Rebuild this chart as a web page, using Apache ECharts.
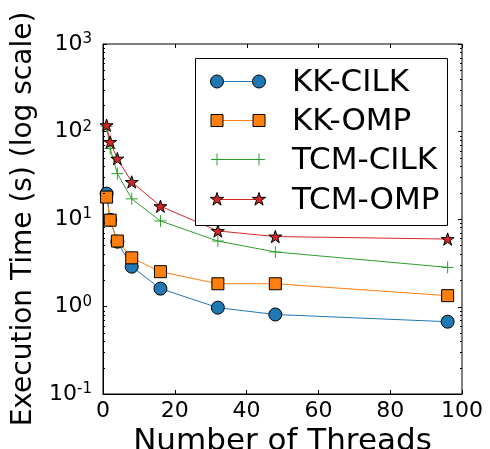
<!DOCTYPE html>
<html>
<head>
<meta charset="utf-8">
<script src="https://cdn.jsdelivr.net/npm/echarts@6/dist/echarts.min.js"></script>
<style>
  html, body { margin: 0; padding: 0; background: #fff; }
  #chart { width: 490px; height: 449px; }
</style>
</head>
<body>
<div id="chart"></div>
<script>
// thread counts
const threads = [1, 2, 4, 8, 16, 32, 48, 96];

// execution times (s)
const kkCilk = [19.5, 9.8, 5.5, 2.85, 1.6, 0.97, 0.81, 0.67];
const kkOmp = [17.8, 9.7, 5.6, 3.6, 2.5, 1.82, 1.82, 1.33];
const tcmCilk = [115, 64, 33, 17, 9.5, 5.6, 4.2, 2.8];
const tcmOmp = [118, 76, 49, 26.5, 14, 7.3, 6.3, 5.9];

const xTicks = [0, 20, 40, 60, 80, 100];
const yTicks = [0.1, 1, 10, 100, 1000];

const seriesNames = ['KK-CILK', 'KK-OMP', 'TCM-CILK', 'TCM-OMP'];
const colors = ['#1f77b4', '#ff7f0e', '#2ca02c', '#d62728'];

const FONT = 'DejaVu Sans';
// unit 5-point star (outer r=1, inner r=0.382)
const starPts = [[0, -1], [0.2245, -0.309], [0.951, -0.309], [0.363, 0.118], [0.588, 0.809],
  [0, 0.382], [-0.588, 0.809], [-0.363, 0.118], [-0.951, -0.309], [-0.2245, -0.309]];
const STAR = 'path://M' + starPts.map(p => p[0] + ',' + p[1]).join('L') + 'Z';
const PLUS = 'path://M0,-1L0,1M-1,0L1,0';

const markers = [
  { symbol: 'circle', size: 13, fill: colors[0], border: '#000' },
  { symbol: 'rect', size: 12, fill: colors[1], border: '#000' },
  { symbol: PLUS, size: 12, fill: 'none', border: colors[2] },
  { symbol: STAR, size: 13, fill: colors[3], border: '#000' }
];

const myChart = echarts.init(document.getElementById('chart'));

function pairs(vals) {
  return threads.map((t, i) => [t, vals[i]]);
}

function makeSeries(name, vals, idx) {
  const m = markers[idx];
  return {
    name: name,
    type: 'line',
    data: pairs(vals),
    symbol: m.symbol,
    symbolSize: m.size,
    symbolKeepAspect: true,
    showSymbol: true,
    lineStyle: { color: colors[idx], width: 1 },
    itemStyle: { color: m.fill, borderColor: m.border, borderWidth: 1, opacity: 1 },
    emphasis: { disabled: true },
    z: 2 + idx,
    animation: false
  };
}

const option = {
  animation: false,
  grid: {
    left: 103, right: 28, top: 44, bottom: 55, containLabel: false, outerBoundsMode: 'none',
    show: true, borderColor: '#000', borderWidth: 1, backgroundColor: 'transparent'
  },
  xAxis: {
    type: 'value',
    min: 0,
    max: 100,
    interval: 20,
    name: 'Number of Threads',
    nameLocation: 'middle',
    nameGap: 27,
    nameTextStyle: { fontFamily: FONT, fontSize: 31, color: '#000' },
    axisLine: { show: true, onZero: false, lineStyle: { color: '#000', width: 1 } },
    axisTick: { show: true, inside: true, length: 4, lineStyle: { color: '#000', width: 1 } },
    axisLabel: { fontFamily: FONT, fontSize: 22, color: '#000', margin: 6 },
    splitLine: { show: false }
  },
  yAxis: {
    type: 'log',
    logBase: 10,
    min: 0.1,
    max: 1000,
    name: 'Execution Time (s) (log scale)',
    nameLocation: 'middle',
    nameGap: 65,
    nameTextStyle: { fontFamily: FONT, fontSize: 28, color: '#000' },
    axisLine: { show: true, onZero: false, lineStyle: { color: '#000', width: 1 } },
    axisTick: { show: true, inside: true, length: 4, lineStyle: { color: '#000', width: 1 } },
    axisLabel: {
      margin: 11,
      formatter: function (v) {
        const e = Math.round(Math.log10(v));
        return '{b|10}{s|' + e + '}';
      },
      rich: {
        b: { fontFamily: FONT, fontSize: 22, color: '#000', lineHeight: 24 },
        s: { fontFamily: FONT, fontSize: 15, color: '#000', lineHeight: 15, verticalAlign: 'top' }
      }
    },
    splitLine: { show: false }
  },
  series: [
    makeSeries(seriesNames[0], kkCilk, 0),
    makeSeries(seriesNames[1], kkOmp, 1),
    makeSeries(seriesNames[2], tcmCilk, 2),
    makeSeries(seriesNames[3], tcmOmp, 3)
  ]
};

myChart.setOption(option);

// legend marker graphic for series i centred at (cx, cy)
function legendMarker(i, cx, cy) {
  const s = { stroke: '#000', lineWidth: 1 };
  if (i === 0) {
    return [{ type: 'circle', shape: { cx: cx, cy: cy, r: 6.5 }, style: Object.assign({ fill: colors[0] }, s), z: 13 }];
  }
  if (i === 1) {
    return [{ type: 'rect', shape: { x: cx - 6, y: cy - 6, width: 12, height: 12 }, style: Object.assign({ fill: colors[1] }, s), z: 13 }];
  }
  if (i === 2) {
    const g = { stroke: colors[2], lineWidth: 1 };
    return [
      { type: 'line', shape: { x1: cx - 6, y1: cy, x2: cx + 6, y2: cy }, style: g, z: 13 },
      { type: 'line', shape: { x1: cx, y1: cy - 6, x2: cx, y2: cy + 6 }, style: g, z: 13 }
    ];
  }
  return [{
    type: 'polygon',
    shape: { points: starPts.map(p => [cx + p[0] * 7, cy + p[1] * 7]) },
    style: Object.assign({ fill: colors[3] }, s),
    z: 13
  }];
}

function tickLine(x1, y1, x2, y2) {
  return { type: 'line', shape: { x1: x1, y1: y1, x2: x2, y2: y2 }, style: { stroke: '#000', lineWidth: 1 }, silent: true, z: 5 };
}

// mirrored ticks (top/right), minor log ticks, legend box
function drawExtras() {
  const els = [];
  const xl = myChart.convertToPixel({ xAxisIndex: 0 }, 0);
  const xr = myChart.convertToPixel({ xAxisIndex: 0 }, 100);
  const yt = myChart.convertToPixel({ yAxisIndex: 0 }, 1000);

  xTicks.forEach(t => {
    const x = Math.round(myChart.convertToPixel({ xAxisIndex: 0 }, t)) + 0.5;
    els.push(tickLine(x, yt, x, yt + 4));
  });
  yTicks.forEach(t => {
    const y = Math.round(myChart.convertToPixel({ yAxisIndex: 0 }, t)) + 0.5;
    els.push(tickLine(xr - 4, y, xr, y));
  });
  for (let d = -1; d < 3; d++) {
    for (let k = 2; k < 10; k++) {
      const y = Math.round(myChart.convertToPixel({ yAxisIndex: 0 }, k * Math.pow(10, d))) + 0.5;
      els.push(tickLine(xl, y, xl + 2, y));
      els.push(tickLine(xr - 2, y, xr, y));
    }
  }

  // legend
  const lx = 195, ly = 58, lw = 252, lh = 167;
  els.push({ type: 'rect', shape: { x: lx + 0.5, y: ly + 0.5, width: lw, height: lh }, style: { fill: '#fff', stroke: '#000', lineWidth: 1 }, z: 10 });
  const rowY = [81, 120, 159, 199];
  seriesNames.forEach((name, i) => {
    const y = rowY[i] + 0.5;
    els.push({ type: 'line', shape: { x1: 217, y1: y, x2: 259, y2: y }, style: { stroke: colors[i], lineWidth: 1 }, z: 11 });
    legendMarker(i, 217, y).concat(legendMarker(i, 259, y)).forEach(e => els.push(e));
    els.push({
      type: 'text',
      x: 292,
      y: y + 1,
      style: { text: name, fontFamily: FONT, fontSize: 31, fill: '#000', verticalAlign: 'middle', align: 'left' },
      z: 12
    });
  });
  myChart.setOption({ graphic: els });
}

drawExtras();
</script>
</body>
</html>
